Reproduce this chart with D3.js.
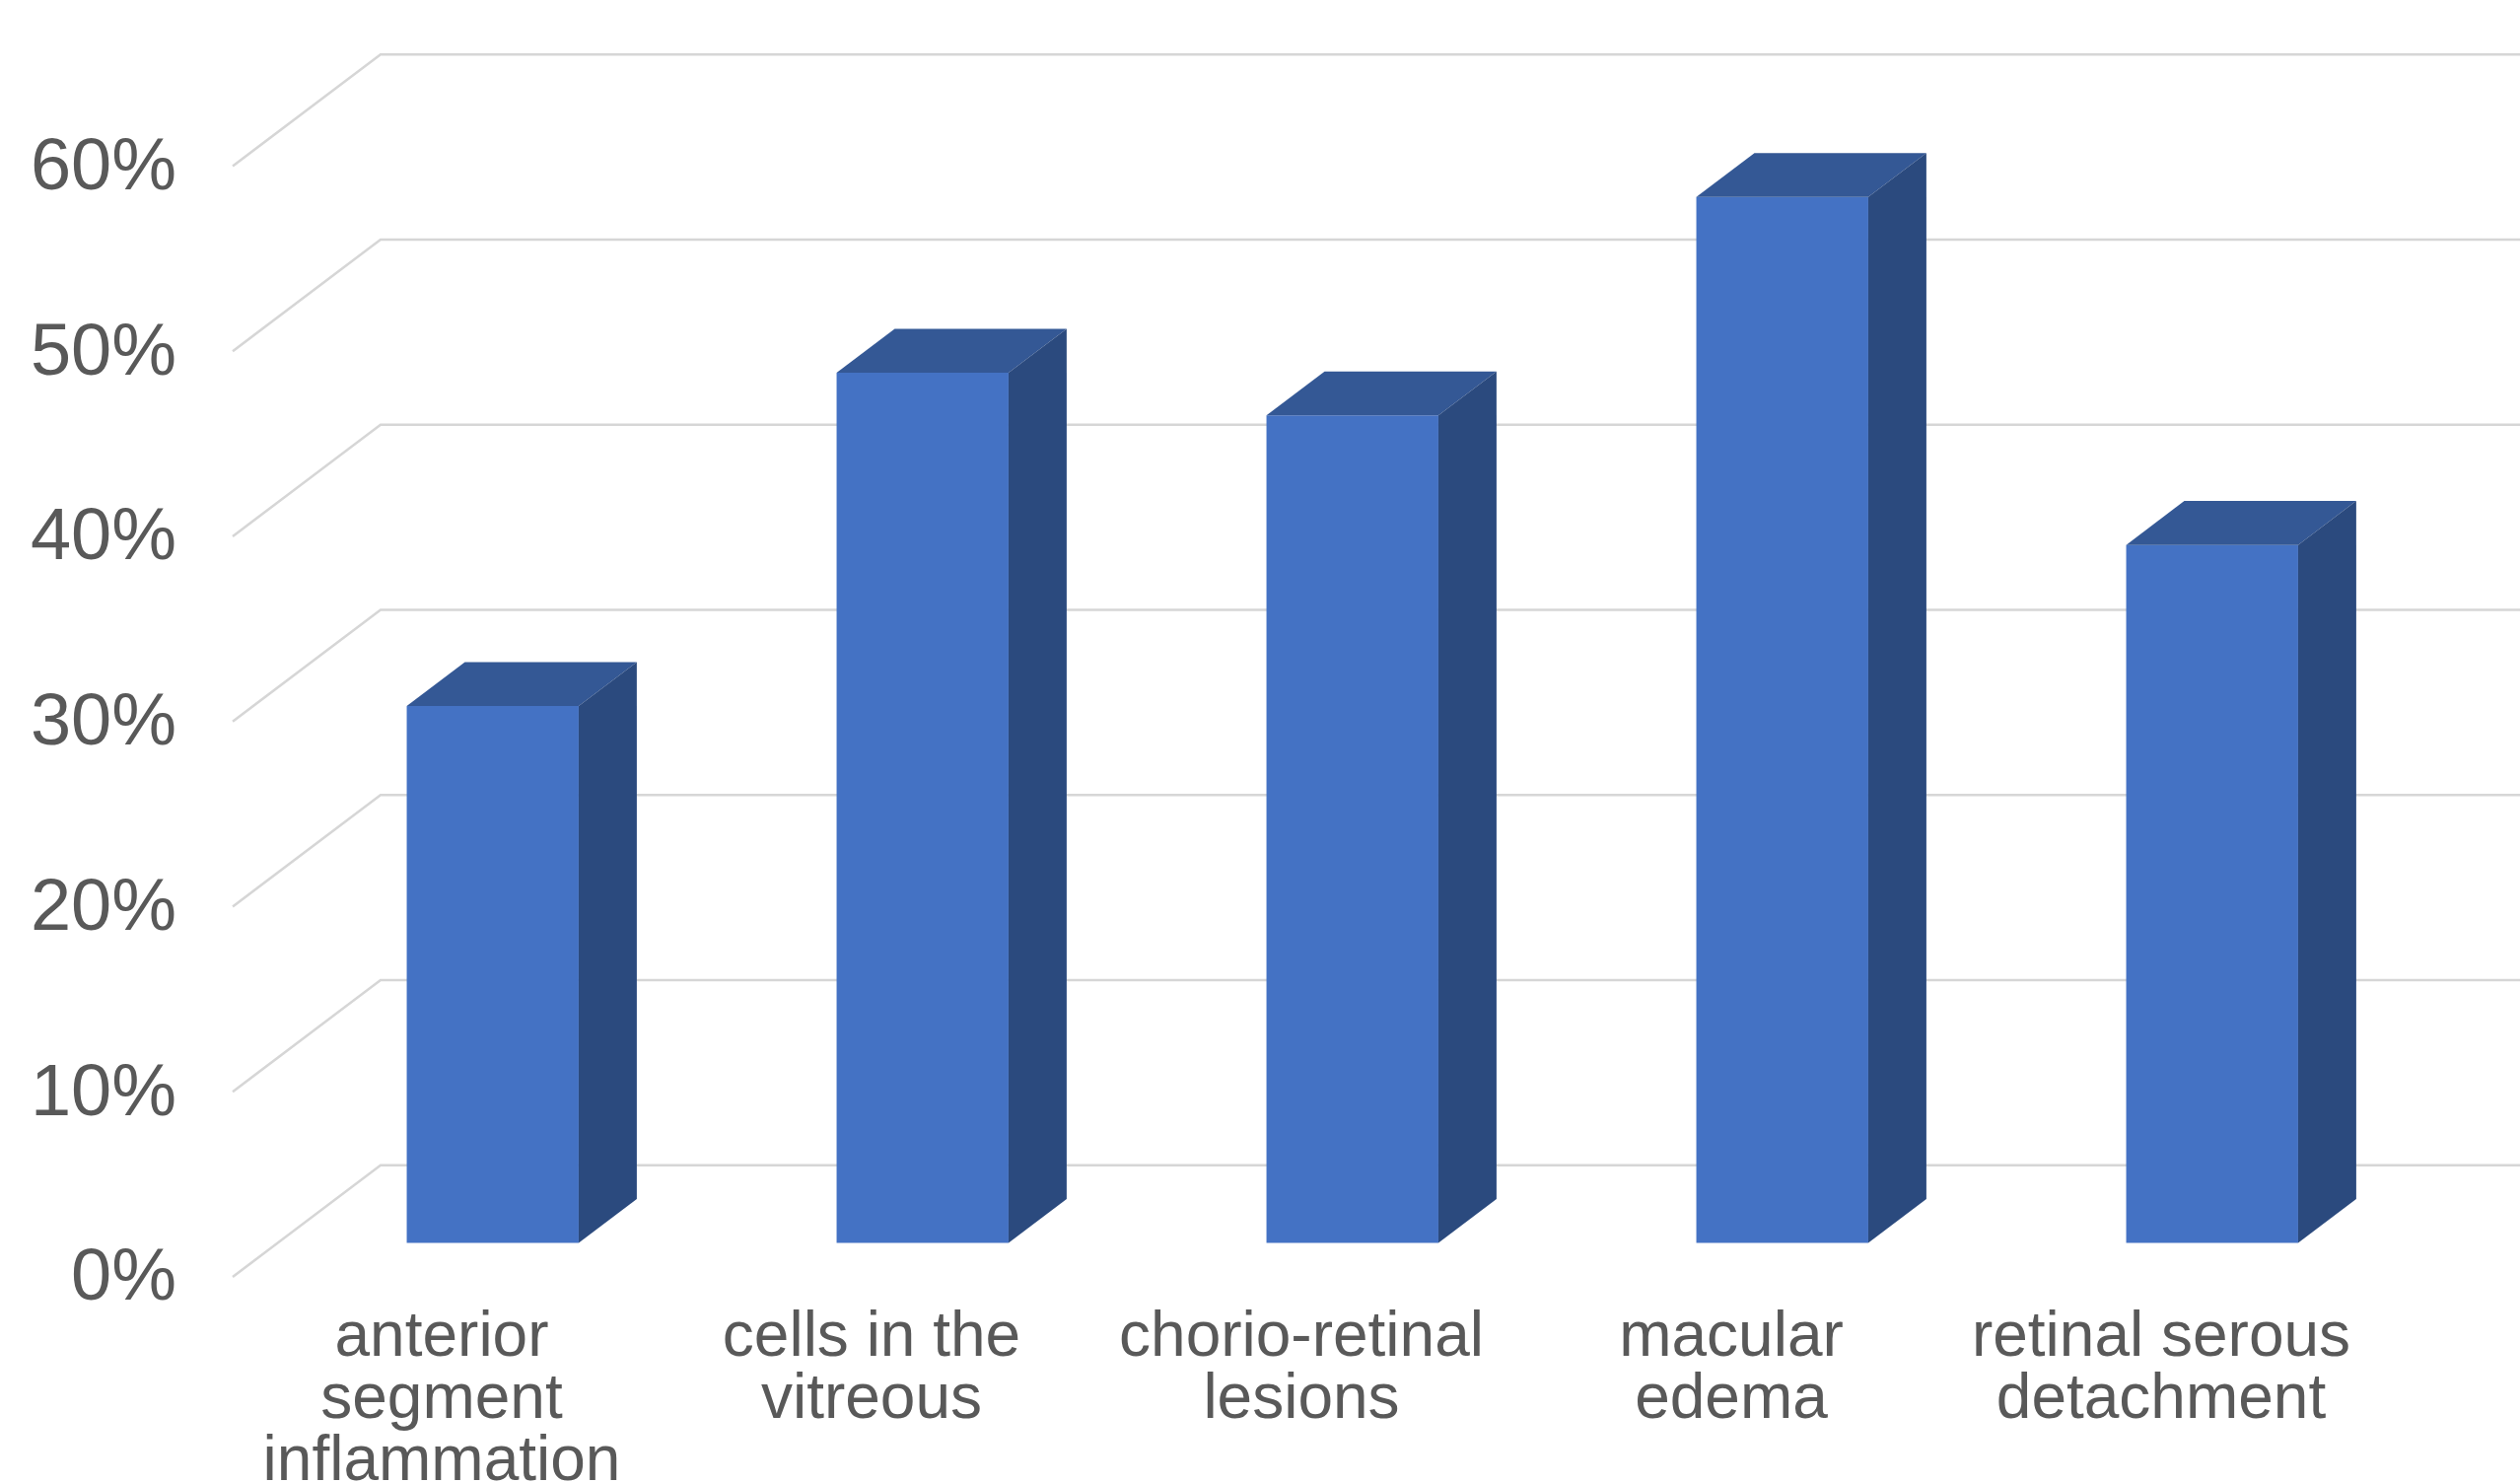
<!DOCTYPE html>
<html>
<head>
<meta charset="utf-8">
<script src="https://cdn.jsdelivr.net/npm/d3@7"></script>
<style>
  html, body { margin: 0; padding: 0; background: #ffffff; overflow: hidden; }
  svg { display: block; }
  text { font-family: "Liberation Sans", Arial, Helvetica, sans-serif; fill: #595959; }
</style>
</head>
<body>
<svg id="chart" width="2556" height="1504"></svg>
<script>
// Share of patients showing each finding
const categories = [
  "anterior segment inflammation",
  "cells in the vitreous",
  "chorio-retinal lesions",
  "macular edema",
  "retinal serous detachment"
];
const values = [29, 47, 44.7, 56.5, 37.7];
const tickValues = [0, 10, 20, 30, 40, 50, 60];
const tickLabels = ["0%", "10%", "20%", "30%", "40%", "50%", "60%"];

const W = 2556, H = 1504;
const svg = d3.select("#chart");

// Front plane of the 3-D floor; the back wall is offset by the depth vector
const DEPTH_DX = 150, DEPTH_DY = -113.3;
const BAR_D0 = 0.305, BAR_D1 = 0.698;   // bar front / back depth fractions

const x = d3.scaleBand()
  .domain(categories)
  .range([236, 2416])
  .paddingInner(0.6)
  .paddingOuter(0.3);

const y = d3.scaleLinear()
  .domain([0, 60])
  .range([1295, 1295 - 60 * 18.775]);

// oblique projection of a front-plane point pushed back by depth fraction d
const proj = (px, py, d) => [px + d * DEPTH_DX, py + d * DEPTH_DY];

// gridlines: short diagonal on the left side wall, then across the back wall
const [xL, xR] = x.range();
const grid = svg.append("g").attr("class", "grid");
grid.selectAll("path")
  .data(tickValues)
  .join("path")
  .attr("d", t => {
    const a = proj(xL, y(t), 0), b = proj(xL, y(t), 1), c = proj(xR, y(t), 1);
    return `M${a}L${b}L${c}`;
  })
  .attr("fill", "none")
  .attr("stroke", "#d6d6d6")
  .attr("stroke-width", 2.5);

// value axis labels at the front edge
const yAxis = d3.axisLeft(y)
  .tickValues(tickValues)
  .tickFormat((d, i) => tickLabels[i])
  .tickSize(0)
  .tickPadding(0);
const yg = svg.append("g").attr("transform", "translate(179,0)").call(yAxis);
yg.select(".domain").remove();
yg.selectAll("text")
  .attr("fill", "#595959")
  .style("font-size", "74px")
  .attr("dy", "0.31em");

// 3-D columns
const bw = x.bandwidth();
const bars = svg.append("g").attr("class", "bars")
  .selectAll("g")
  .data(categories.map((c, i) => ({ c, v: values[i] })))
  .join("g");

const poly = pts => "M" + pts.map(p => p.join(",")).join("L") + "Z";

bars.append("path")          // front face
  .attr("d", d => {
    const l = x(d.c), r = l + bw;
    return poly([proj(l, y(d.v), BAR_D0), proj(r, y(d.v), BAR_D0),
                 proj(r, y(0), BAR_D0), proj(l, y(0), BAR_D0)]);
  })
  .attr("fill", "#4472c4");

bars.append("path")          // top face
  .attr("d", d => {
    const l = x(d.c), r = l + bw;
    return poly([proj(l, y(d.v), BAR_D0), proj(r, y(d.v), BAR_D0),
                 proj(r, y(d.v), BAR_D1), proj(l, y(d.v), BAR_D1)]);
  })
  .attr("fill", "#345895");

bars.append("path")          // right side face
  .attr("d", d => {
    const r = x(d.c) + bw;
    return poly([proj(r, y(d.v), BAR_D0), proj(r, y(d.v), BAR_D1),
                 proj(r, y(0), BAR_D1), proj(r, y(0), BAR_D0)]);
  })
  .attr("fill", "#2b4a7e");

// category labels, wrapped to a fixed width
const xAxis = d3.axisBottom(x).tickSize(0).tickPadding(0);
const xg = svg.append("g").attr("transform", "translate(-6,1375)").call(xAxis);
xg.select(".domain").remove();

const LINE_H = 63, WRAP_W = 410;
xg.selectAll("text")
  .attr("fill", "#595959")
  .style("font-size", "64px")
  .attr("y", 0)
  .attr("dy", null)
  .each(function (label) {
    const text = d3.select(this);
    const words = label.split(" ");
    text.text(null);
    let line = [];
    let lineNo = 0;
    let tspan = text.append("tspan").attr("x", 0).attr("y", 0);
    words.forEach(w => {
      line.push(w);
      tspan.text(line.join(" "));
      if (tspan.node().getComputedTextLength() > WRAP_W && line.length > 1) {
        line.pop();
        tspan.text(line.join(" "));
        line = [w];
        lineNo += 1;
        tspan = text.append("tspan").attr("x", 0).attr("y", lineNo * LINE_H).text(w);
      }
    });
  });
</script>
</body>
</html>
